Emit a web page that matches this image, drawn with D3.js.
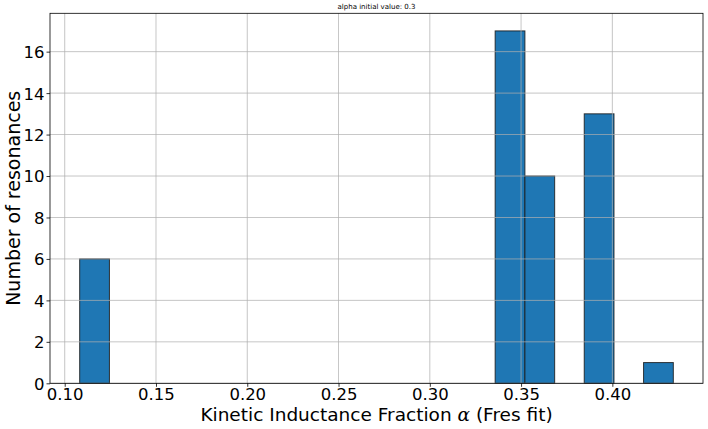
<!DOCTYPE html>
<html><head><meta charset="utf-8">
<script src="https://cdn.jsdelivr.net/npm/d3@7"></script>
<style>body{margin:0;background:#fff}svg{display:block}</style>
</head><body>
<svg id="c" width="708" height="429"></svg>
<script>
const binEdges = [0.1082,0.1245,0.1407,0.1570,0.1732,0.1895,0.2058,0.2220,0.2383,0.2545,0.2708,0.2871,0.3033,0.3196,0.3358,0.3521,0.3684,0.3846,0.4009,0.4171,0.4334];
const binCounts = [6,0,0,0,0,0,0,0,0,0,0,0,0,0,17,10,0,13,0,1];
const xTicks = [0.10,0.15,0.20,0.25,0.30,0.35,0.40];
const yTicks = [0,2,4,6,8,10,12,14,16];
const titleText = "alpha initial value: 0.3";
const yLabel = "Number of resonances";

const svg = d3.select("#c");
const L = 50, R = 703, T = 13.3, B = 383.3;
const lo = binEdges[0], hi = binEdges[binEdges.length-1];
const pad = (hi-lo)*0.05;
const x = d3.scaleLinear().domain([lo-pad, hi+pad]).range([L, R]);
const yMax = d3.max(binCounts)*1.05;
const y = d3.scaleLinear().domain([0, yMax]).range([B, T]);
const font = "DejaVu Sans, sans-serif";

const bins = binCounts.map((c,i)=>({x0:binEdges[i], x1:binEdges[i+1], c})).filter(d=>d.c>0);
svg.append("g").selectAll("rect").data(bins).join("rect")
  .attr("x", d=>x(d.x0)).attr("width", d=>x(d.x1)-x(d.x0))
  .attr("y", d=>y(d.c)).attr("height", d=>y(0)-y(d.c))
  .attr("fill","#1f77b4").attr("stroke","#1a1a1a").attr("stroke-opacity",0.85).attr("stroke-width",1);

// grid on top
const g = svg.append("g");
g.selectAll("line.vx").data(xTicks).join("line")
  .attr("x1",d=>x(d)).attr("x2",d=>x(d)).attr("y1",T).attr("y2",B)
  .attr("stroke","#b0b0b0").attr("stroke-width",0.8).attr("opacity",0.9);
g.selectAll("line.hy").data(yTicks).join("line")
  .attr("y1",d=>y(d)).attr("y2",d=>y(d)).attr("x1",L).attr("x2",R)
  .attr("stroke","#b0b0b0").attr("stroke-width",0.8).attr("opacity",0.9);

// axes
const xa = svg.append("g").attr("transform",`translate(0,${B})`)
  .call(d3.axisBottom(x).tickValues(xTicks).tickFormat(d3.format(".2f")).tickSizeInner(3.5).tickSizeOuter(0).tickPadding(2));
const ya = svg.append("g").attr("transform",`translate(${L},0)`)
  .call(d3.axisLeft(y).tickValues(yTicks).tickFormat(d3.format("d")).tickSizeInner(3.5).tickSizeOuter(0).tickPadding(2));
[xa,ya].forEach(a=>{
  a.select(".domain").remove();
  a.selectAll("text").attr("font-family",font).attr("font-size","16.5px").attr("fill","#000");
  a.selectAll("line").attr("stroke","#000").attr("stroke-width",0.8);
});
ya.selectAll("text").attr("dy","0.36em");
xa.selectAll("text").attr("dy","0.68em");

// spines
svg.append("rect").attr("x",L).attr("y",T).attr("width",R-L).attr("height",B-T)
  .attr("fill","none").attr("stroke","#000").attr("stroke-width",0.8);

// title
svg.append("text").attr("x",(L+R)/2).attr("y",9).attr("text-anchor","middle")
  .attr("font-family",font).attr("font-size","7px").text(titleText);

// x label
const xl = svg.append("text").attr("x",(L+R)/2).attr("y",421).attr("text-anchor","middle")
  .attr("font-family",font).attr("font-size","18.5px");
xl.append("tspan").text("Kinetic Inductance Fraction ");
xl.append("tspan").attr("font-style","italic").attr("font-family","DejaVu Serif, serif").text("α");
xl.append("tspan").text(" (Fres fit)");

// y label
svg.append("text").attr("transform",`translate(20,${(T+B)/2}) rotate(-90)`).attr("text-anchor","middle")
  .attr("font-family",font).attr("font-size","19px").text(yLabel);
</script>
</body></html>
